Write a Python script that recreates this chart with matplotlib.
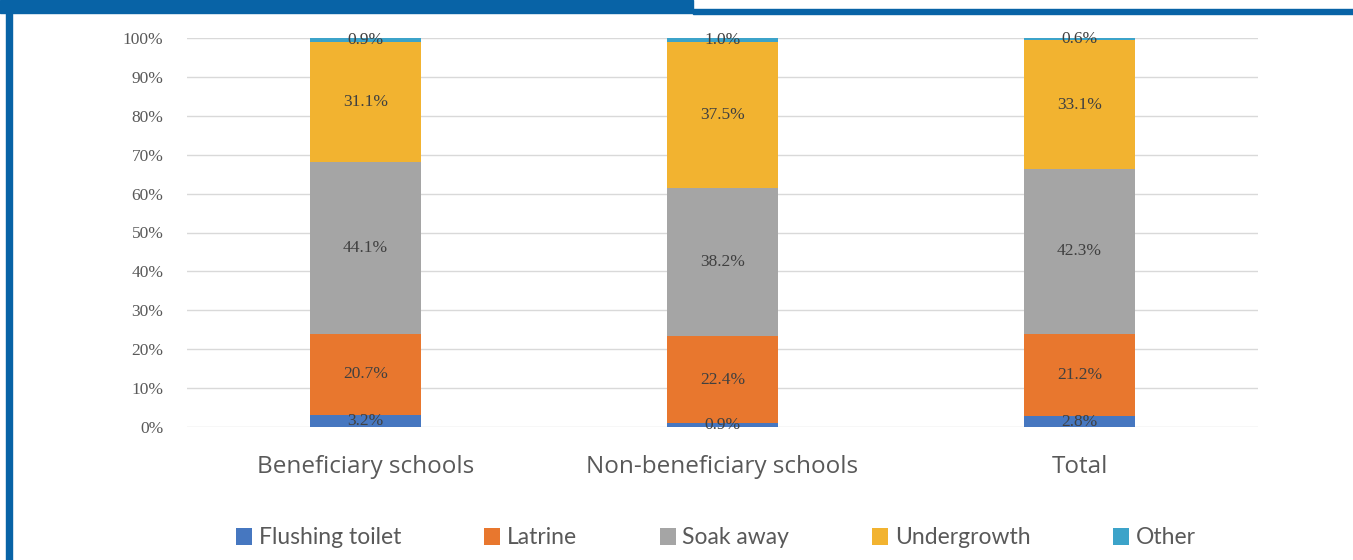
import matplotlib
matplotlib.use("Agg")
import matplotlib.pyplot as plt
from matplotlib.patches import Rectangle
import numpy as np

categories = ["Beneficiary schools", "Non-beneficiary schools", "Total"]
series_names = ["Flushing toilet", "Latrine", "Soak away", "Undergrowth", "Other"]
flushing = [3.2, 0.9, 2.8]
latrine = [20.7, 22.4, 21.2]
soak = [44.1, 38.2, 42.3]
undergrowth = [31.1, 37.5, 33.1]
other = [0.9, 1.0, 0.6]
yticks = [0, 10, 20, 30, 40, 50, 60, 70, 80, 90, 100]

colors = ["#4677C0", "#E8772E", "#A5A5A5", "#F2B330", "#3CA3C9"]
series = [flushing, latrine, soak, undergrowth, other]

W, H = 1353, 560
fig = plt.figure(figsize=(W / 100, H / 100), dpi=100)
fig.patch.set_facecolor("white")

ax = fig.add_axes([187 / W, (H - 427) / H, 1071 / W, 389 / H])
x = np.arange(len(categories))
bottom = np.zeros(len(categories))
handles = []
for name, vals, c in zip(series_names, series, colors):
    vals = np.array(vals)
    b = ax.bar(x, vals, bottom=bottom, width=0.31, color=c, label=name, zorder=3)
    handles.append(b)
    for xi, v, bt in zip(x, vals, bottom):
        ax.text(xi, bt + v / 2, f"{v:.1f}%", ha="center", va="center",
                fontsize=12.5, color="#404040", family=["Liberation Serif", "DejaVu Serif"], zorder=4)
    bottom += vals

ax.set_xlim(-0.5, 2.5)
ax.set_ylim(0, 100)
ax.set_yticks(yticks)
ax.set_yticklabels([f"{t}%" for t in yticks], fontsize=12.5, color="#595959",
                   family=["Liberation Serif", "DejaVu Serif"])
ax.set_xticks(x)
ax.set_xticklabels(categories, fontsize=17.5, color="#595959", family=["Open Sans", "DejaVu Sans"])
ax.tick_params(axis="both", length=0)
ax.tick_params(axis="y", pad=17)
ax.tick_params(axis="x", pad=20)
for s in ax.spines.values():
    s.set_visible(False)
ax.grid(axis="y", color="#D9D9D9", lw=1, zorder=0)
ax.set_axisbelow(True)

leg = fig.legend(handles=handles, labels=series_names, loc="center", ncol=5,
                 bbox_to_anchor=(716 / W, (H - 538) / H), frameon=False,
                 prop={"family": ["Lato", "DejaVu Sans"], "size": 16.5},
                 handlelength=0.7, handleheight=0.7, handletextpad=0.3, columnspacing=3.6)
for t in leg.get_texts():
    t.set_color("#595959")

blue = "#0863A6"
fig.add_artist(Rectangle((0, 1 - 13 / H), 693 / W, 13 / H, transform=fig.transFigure,
                         color=blue, zorder=10))
fig.add_artist(Rectangle((693 / W, 1 - 14 / H), 1 - 693 / W, 5 / H, transform=fig.transFigure,
                         color=blue, zorder=10))
fig.add_artist(Rectangle((6 / W, 0), 6 / W, 1, transform=fig.transFigure,
                         color=blue, zorder=10))

fig.savefig("out.png", dpi=100)
